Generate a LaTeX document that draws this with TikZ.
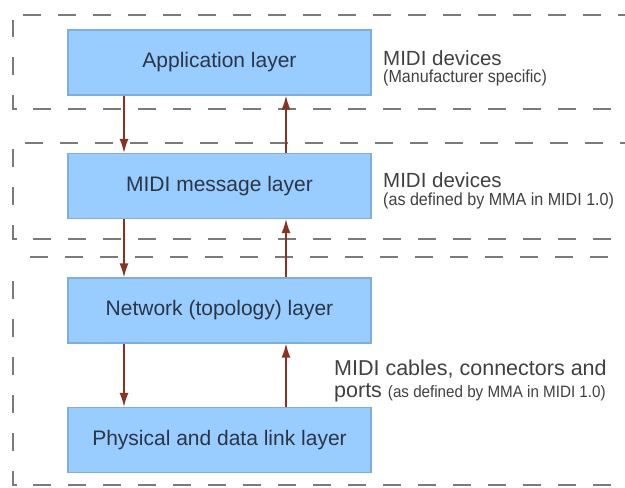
\documentclass[tikz,border=0pt]{standalone}
\usepackage{fontspec}
\setmainfont{Liberation Sans}
\newfontfamily\condfont[FakeStretch=0.92]{Liberation Sans}
\usetikzlibrary{arrows.meta}
\definecolor{boxfill}{HTML}{99CCFF}
\definecolor{boxline}{HTML}{7FAEDD}
\definecolor{boxtext}{HTML}{2A3645}
\definecolor{labtext}{HTML}{404040}
\definecolor{arrcol}{HTML}{8B3322}
\definecolor{dashcol}{HTML}{7A7A7A}
\tikzset{
  layerbox/.style={draw=boxline, line width=1.2pt, fill=boxfill, text=boxtext,
    minimum width=303pt, minimum height=65pt, inner sep=0pt,
    font=\fontsize{21}{24}\selectfont},
  biglab/.style={anchor=base west, inner sep=0pt, text=labtext, font=\fontsize{20.5}{24}\selectfont},
  smalllab/.style={anchor=base west, inner sep=0pt, text=labtext, font=\condfont\fontsize{17.5}{20}\selectfont},
  arr/.style={draw=arrcol, line width=1.5pt, -{Latex[length=14pt,width=9pt]}},
  hdash/.style={draw=dashcol, line width=2.8pt, dash pattern=on 18pt off 17pt},
  vdash/.style={draw=dashcol, line width=2.8pt, dash pattern=on 18pt off 20pt},
}
\begin{document}
\begin{tikzpicture}[x=1pt,y=-1pt]
\useasboundingbox (0,0) rectangle (625,488);
% dashed regions
\draw[hdash] (23,15) -- (625,15);
\draw[vdash] (17,109) -- (13,109) -- (13,20);
\draw[hdash] (33,109) -- (625,109);
\draw[hdash] (25,143) -- (625,143);
\draw[vdash] (17,239) -- (13,239) -- (13,149);
\draw[hdash] (33,239) -- (625,239);
\draw[hdash] (30,257) -- (625,257);
\draw[vdash] (17,485) -- (13,485) -- (13,263);
\draw[hdash] (33,485) -- (625,485);
% boxes
\node[layerbox] (app) at (219.5,62.5) {Application layer};
\node[layerbox] (msg) at (219.5,186) {MIDI message layer};
\node[layerbox] (net) at (219.5,310.5) {Network (topology) layer};
\node[layerbox] (phy) at (219.5,440) {Physical and data link layer};
% arrows
\draw[arr] ([xshift=-95.5pt]app.south) -- ([xshift=-95.5pt]msg.north);
\draw[arr] ([xshift=66.5pt]msg.north) -- ([xshift=66.5pt]app.south);
\draw[arr] ([xshift=-95.5pt]msg.south) -- ([xshift=-95.5pt]net.north);
\draw[arr] ([xshift=66.5pt]net.north) -- ([xshift=66.5pt]msg.south);
\draw[arr] ([xshift=-95.5pt]net.south) -- ([xshift=-95.5pt]phy.north);
\draw[arr] ([xshift=66.5pt]phy.north) -- ([xshift=66.5pt]net.south);
% labels
\node[biglab] (l1a) at (383,65) {MIDI devices};
\node[smalllab] (l1b) at (383,82) {(Manufacturer specific)};
\node[biglab] (l2a) at (383,187) {MIDI devices};
\node[smalllab] (l2b) at (383,205) {(as defined by MMA in MIDI 1.0)};
\node[biglab, font=\fontsize{21.5}{24}\selectfont] (l3a) at (334,375) {MIDI cables, connectors and};
\node[biglab, font=\fontsize{21.5}{24}\selectfont] (l3b) at (334,397) {ports {\condfont\fontsize{16.5}{20}\selectfont (as defined by MMA in MIDI 1.0)}};
\end{tikzpicture}
\end{document}
